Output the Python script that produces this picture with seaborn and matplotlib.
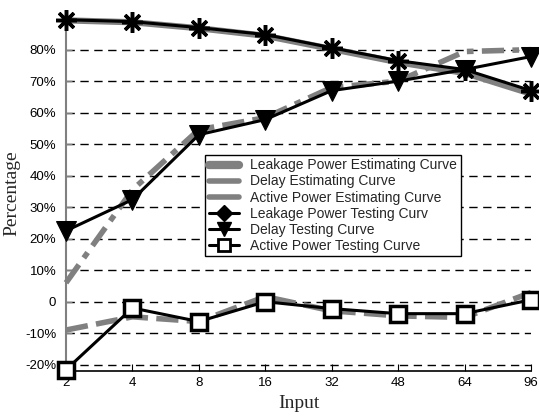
import numpy as np
import pandas as pd
import matplotlib
matplotlib.use("Agg")
import matplotlib.pyplot as plt
from matplotlib.lines import Line2D
import seaborn as sns

inputs = ["2", "4", "8", "16", "32", "48", "64", "96"]

leak_est = [89.3, 88.7, 86.8, 84.4, 80.2, 76.0, 72.6, 66.0]
delay_est = [6.0, 35.5, 54.6, 58.4, 68.0, 70.0, 79.4, 80.0]
active_est = [-9.0, -4.8, -6.3, 1.6, -2.9, -4.5, -5.0, 2.9]

leak_test = [89.5, 88.9, 87.0, 84.8, 80.6, 76.5, 73.7, 67.0]
delay_test = [22.5, 32.4, 53.0, 57.8, 67.0, 70.0, 73.7, 77.8]
active_test = [-21.6, -2.0, -6.3, 0.0, -2.2, -3.8, -3.8, 0.6]

yticks = [-20, -10, 0, 10, 20, 30, 40, 50, 60, 70, 80]
ytick_labels = ["-20%", "-10%", "0", "10%", "20%", "30%", "40%", "50%", "60%", "70%", "80%"]

sns.set_style("white")
plt.rcParams["font.family"] = ["Liberation Sans", "DejaVu Sans"]

fig = plt.figure(figsize=(5.39, 4.18), dpi=100)
ax = fig.add_axes([66 / 539, 1 - 371 / 418, 465 / 539, 356 / 418])

grey = "#808080"

# estimating curves (grey)
sns.lineplot(x=inputs, y=leak_est, ax=ax, color=grey, lw=4.5, sort=False, zorder=2,
             clip_on=False)
sns.lineplot(x=inputs, y=delay_est, ax=ax, color=grey, lw=4, sort=False, zorder=2,
             linestyle=(0, (4, 1.5, 1.2, 1.5)), clip_on=False)
sns.lineplot(x=inputs, y=active_est, ax=ax, color=grey, lw=4, sort=False, zorder=2,
             linestyle=(0, (4, 1.5)), clip_on=False)

# testing curves (black)
sns.lineplot(x=inputs, y=leak_test, ax=ax, color="black", lw=2.2, sort=False, zorder=3,
             marker=(8, 2, 0), markersize=15, markeredgewidth=2.5, markeredgecolor="black",
             clip_on=False)
sns.lineplot(x=inputs, y=delay_test, ax=ax, color="black", lw=2.2, sort=False, zorder=3,
             marker="v", markersize=14, markeredgecolor="black", markerfacecolor="black",
             clip_on=False)
sns.lineplot(x=inputs, y=active_test, ax=ax, color="black", lw=2.2, sort=False, zorder=3,
             marker="s", markersize=12, markeredgewidth=2.5, markeredgecolor="black",
             markerfacecolor="white", clip_on=False)

ax.set_xlim(0, 7)
ax.set_ylim(-22, 91)
ax.set_yticks(yticks)
ax.set_yticklabels(ytick_labels)
ax.tick_params(axis="both", labelsize=9.5, labelcolor="black")
ax.tick_params(axis="x", direction="in", length=5, bottom=True, pad=4, color="black")
ax.tick_params(axis="y", direction="in", length=4, left=True, pad=7, color=grey, width=1)
ax.yaxis.grid(True, color="black", linestyle=(0, (6, 4)), lw=1)
ax.xaxis.grid(False)
ax.set_axisbelow(True)

for s in ["top", "right"]:
    ax.spines[s].set_visible(False)
ax.spines["left"].set_color(grey)
ax.spines["left"].set_linewidth(1.5)
ax.spines["bottom"].set_color("black")
ax.spines["bottom"].set_linewidth(1.2)

ax.set_xlabel("Input", family="Liberation Serif", fontsize=14, labelpad=5)
ax.set_ylabel("Percentage", family="Liberation Serif", fontsize=14, labelpad=3)

handles = [
    Line2D([], [], color=grey, lw=6),
    Line2D([], [], color=grey, lw=4),
    Line2D([], [], color=grey, lw=4),
    Line2D([], [], color="black", lw=2.2, marker="D", markersize=8),
    Line2D([], [], color="black", lw=2.2, marker="v", markersize=10),
    Line2D([], [], color="black", lw=2.2, marker="s", markersize=8,
           markerfacecolor="white", markeredgewidth=2),
]
labels = [
    "Leakage Power Estimating Curve",
    "Delay Estimating Curve",
    "Active Power Estimating Curve",
    "Leakage Power Testing Curv",
    "Delay Testing Curve",
    "Active Power Testing Curve",
]
leg = ax.legend(handles, labels, loc="upper left", bbox_to_anchor=(0.299, 0.607),
                borderaxespad=0, fontsize=10, frameon=True, fancybox=False,
                handlelength=2.2, labelspacing=0.15, borderpad=0.25,
                handletextpad=0.8, framealpha=1)
leg.get_frame().set_edgecolor("black")
leg.get_frame().set_linewidth(1)

fig.savefig("out.png", dpi=100)
